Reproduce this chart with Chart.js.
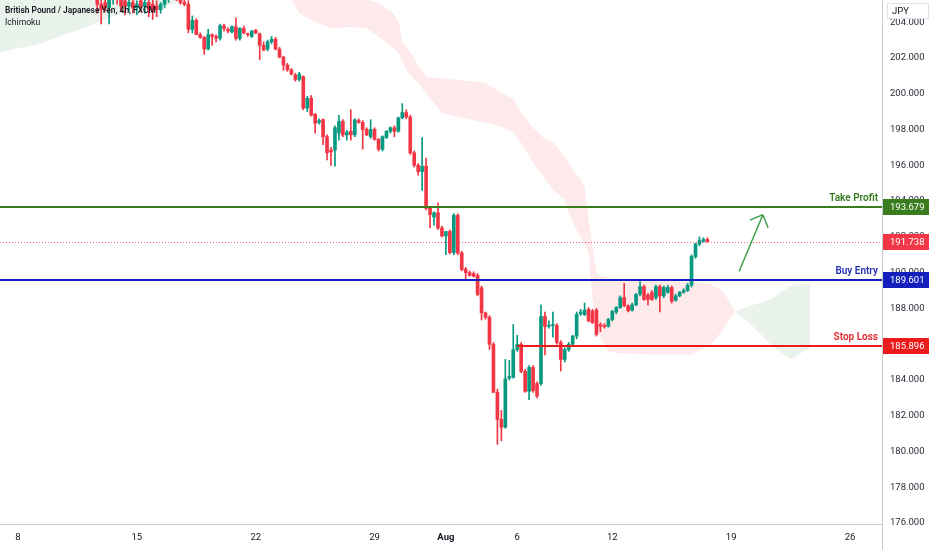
<!DOCTYPE html>
<html>
<head>
<meta charset="utf-8">
<script src="https://cdn.jsdelivr.net/npm/chart.js@4.4.1/dist/chart.umd.min.js"></script>
<style>
  html, body { margin: 0; padding: 0; background: #fff; }
  #wrap { width: 932px; height: 550px; position: relative; }
</style>
</head>
<body>
<div id="wrap"><canvas id="chart"></canvas></div>
<script>
// 4h candles, bar 0 = Mon Jul 8 00:00, one bar every 4 trading hours
const firstBar = -4;

const opens = [
  206.2, 206.4, 206.3, 206.4, 206.5, 206.6, 206.7, 206.8, 206.9, 207.0,
  206.9, 207.1, 207.3, 207.2, 207.5, 207.6, 207.5, 207.8, 207.9, 207.7,
  207.9, 207.8, 207.9, 207.7, 205.9, 205.0, 205.1, 204.8, 205.3, 205.5,
  205.3, 205.2, 204.9, 205.1, 204.8, 205.2, 204.9, 205.1, 205.0, 204.9,
  204.7, 205.0, 205.3, 205.6, 205.7, 205.4, 205.1, 205.0, 203.6, 204.1,
  203.3, 203.15, 202.5, 203.3, 203.2, 203.1, 203.8, 203.6, 203.45, 203.75,
  203.1, 203.65, 203.35, 203.2, 203.55, 203.35, 202.7, 202.5, 202.9, 203.05,
  202.5, 202.05, 201.6, 201.35, 201.05, 200.8, 200.95, 199.2, 199.75, 198.85,
  198.4, 198.55, 197.6, 196.85, 196.85, 197.8, 198.45, 197.7, 197.9, 197.7,
  198.5, 198.4, 198.0, 197.6, 198.0, 197.45, 196.9, 197.55, 197.9, 198.1,
  197.9, 198.65, 198.95, 198.7, 196.7, 196.0, 195.65, 195.95, 193.6, 193.1,
  193.35, 192.5, 192.05, 192.3, 191.12, 193.2, 191.1, 190.2, 190.0, 189.95,
  189.85, 189.15, 187.75, 187.5, 185.99, 183.31, 181.8, 181.36, 184.1, 184.15,
  185.7, 185.99, 184.48, 183.37, 184.7, 183.8, 183.8, 187.55, 187.0, 187.05,
  187.05, 186.1, 185.15, 185.7, 186.0, 186.45, 187.7, 187.65, 187.95, 187.85,
  187.9, 187.1, 187.05, 187.0, 187.38, 187.8, 188.05, 188.6, 188.15, 187.9,
  188.2, 188.8, 189.22, 188.75, 188.9, 188.6, 189.22, 188.7, 188.9, 189.17,
  188.45, 188.7, 188.9, 189.0, 189.3, 190.9, 191.6, 191.75, 191.85
];
const highs = [
  206.5, 206.6, 206.5, 206.6, 206.8, 206.9, 207.0, 207.1, 207.2, 207.2,
  207.2, 207.4, 207.5, 207.6, 207.8, 207.8, 207.9, 208.1, 208.0, 208.0,
  208.1, 208.0, 208.1, 207.8, 206.0, 205.3, 205.4, 205.4, 205.6, 205.7,
  205.5, 205.4, 205.3, 205.4, 205.2, 205.4, 205.3, 205.3, 205.3, 205.2,
  205.1, 205.5, 205.8, 205.9, 205.9, 205.6, 205.3, 205.2, 204.35, 204.2,
  203.4, 203.2, 203.6, 203.35, 203.3, 203.9, 203.9, 203.7, 203.8, 204.25,
  203.7, 203.8, 203.4, 203.55, 203.6, 203.4, 202.9, 203.0, 203.2, 203.15,
  202.6, 202.1, 201.7, 201.4, 201.15, 201.2, 201.0, 199.85, 199.9, 198.9,
  198.6, 198.6, 197.7, 197.0, 198.2, 198.8, 198.55, 197.95, 199.1, 198.6,
  198.6, 198.5, 198.1, 198.55, 198.1, 197.5, 197.65, 197.95, 198.15, 198.2,
  198.7, 199.45, 199.1, 198.8, 196.8, 196.1, 197.55, 196.4, 193.7, 193.4,
  193.9, 192.6, 192.3, 192.4, 193.3, 193.3, 191.2, 190.3, 190.1, 190.05,
  189.95, 189.25, 187.8, 187.6, 186.1, 183.5, 182.3, 185.15, 185.1, 187.1,
  186.5, 186.1, 184.6, 184.8, 184.8, 183.9, 188.2, 187.8, 187.3, 187.8,
  187.15, 186.2, 185.8, 186.1, 186.5, 187.8, 187.95, 188.3, 188.05, 187.95,
  188.0, 187.2, 187.15, 187.45, 187.9, 188.1, 188.7, 189.4, 188.2, 188.3,
  188.85, 189.5, 189.3, 188.85, 189.0, 189.3, 189.3, 189.25, 189.3, 189.25,
  188.8, 188.95, 189.1, 189.4, 191.0, 191.65, 192.0, 191.95, 191.95
];
const lows = [
  206.0, 206.2, 206.1, 206.2, 206.3, 206.4, 206.5, 206.6, 206.6, 206.8,
  206.7, 206.9, 207.0, 207.1, 207.3, 207.4, 207.4, 207.6, 207.6, 207.5,
  207.7, 207.6, 207.6, 205.6, 204.5, 203.9, 204.6, 203.9, 205.0, 205.0,
  204.6, 204.4, 204.6, 204.5, 204.4, 204.6, 204.5, 204.3, 204.15, 204.3,
  204.5, 204.8, 205.1, 205.3, 205.2, 205.0, 204.9, 203.4, 203.4, 203.3,
  203.1, 202.2, 202.45, 202.7, 202.9, 203.0, 203.5, 203.4, 203.4, 203.0,
  203.0, 203.35, 203.2, 203.15, 203.35, 201.9, 202.4, 202.4, 202.8, 202.45,
  202.0, 201.3, 201.25, 201.05, 200.7, 200.7, 199.1, 199.0, 198.75, 197.8,
  198.3, 197.15, 196.3, 196.0, 195.95, 197.4, 197.6, 197.4, 197.4, 197.6,
  198.35, 196.9, 197.65, 197.5, 197.4, 196.8, 196.8, 197.5, 197.8, 197.6,
  197.85, 198.6, 198.6, 196.6, 195.9, 195.45, 194.6, 193.5, 192.5, 192.65,
  192.4, 192.0, 191.0, 191.05, 191.0, 191.0, 190.1, 189.6, 189.8, 189.75,
  188.7, 187.35, 187.4, 185.7, 183.3, 180.4, 180.6, 181.3, 184.0, 184.1,
  185.6, 184.4, 183.3, 182.9, 183.3, 183.0, 183.7, 185.4, 186.9, 186.4,
  186.0, 184.5, 185.0, 185.6, 185.9, 186.3, 187.6, 187.6, 187.25, 187.15,
  186.45, 186.7, 186.9, 186.95, 187.3, 187.7, 188.0, 188.1, 187.8, 187.85,
  188.15, 188.7, 188.45, 188.2, 188.45, 188.5, 187.8, 188.6, 188.85, 188.3,
  188.4, 188.65, 188.85, 188.95, 189.2, 190.8, 191.5, 191.7, 191.7
];
const closes = [
  206.4, 206.3, 206.4, 206.5, 206.6, 206.7, 206.8, 206.9, 207.0, 206.9,
  207.1, 207.3, 207.2, 207.5, 207.6, 207.5, 207.8, 207.9, 207.7, 207.9,
  207.8, 207.9, 207.7, 205.9, 205.0, 204.7, 204.8, 205.3, 205.5, 205.3,
  204.9, 204.9, 205.1, 204.8, 205.0, 204.9, 205.1, 204.7, 204.6, 204.7,
  205.0, 205.3, 205.6, 205.7, 205.4, 205.1, 205.0, 203.6, 204.1, 203.3,
  203.15, 202.5, 203.3, 203.2, 203.1, 203.8, 203.65, 203.5, 203.75, 203.1,
  203.65, 203.4, 203.3, 203.5, 203.4, 202.7, 202.45, 202.9, 203.05, 202.5,
  202.05, 201.6, 201.35, 201.1, 200.8, 201.1, 199.2, 199.75, 198.8, 198.35,
  198.5, 197.6, 196.7, 196.75, 198.1, 198.45, 197.7, 197.85, 197.7, 198.55,
  198.4, 198.0, 197.7, 198.0, 197.45, 196.9, 197.6, 197.9, 198.1, 197.9,
  198.65, 198.95, 198.7, 196.7, 196.0, 195.65, 195.95, 193.6, 193.25, 193.35,
  192.5, 192.05, 192.3, 191.12, 193.2, 191.1, 190.17, 190.0, 189.85, 189.8,
  188.78, 187.75, 187.5, 185.99, 183.31, 181.8, 181.36, 184.06, 184.2, 185.7,
  185.99, 184.48, 183.37, 184.7, 183.4, 183.1, 187.55, 187.0, 187.05, 187.1,
  186.1, 185.15, 185.7, 186.0, 186.45, 187.66, 187.8, 187.9, 187.3, 187.2,
  186.55, 187.0, 186.98, 187.38, 187.83, 188.05, 188.6, 188.15, 187.87, 188.2,
  188.78, 189.22, 188.5, 188.5, 188.5, 189.22, 188.7, 189.17, 189.17, 188.4,
  188.7, 188.9, 189.0, 189.3, 190.9, 191.6, 191.8, 191.85, 191.738
];

// ichimoku cloud (leading spans, already shifted forward)
const cloudBars = [-5, 5, 15, 25, 35, 45, 55, 69, 71, 74, 79, 84, 88, 91, 94, 96, 97, 98,
  100, 101, 103, 105, 107, 112, 118, 122, 125, 127, 130, 133, 135, 138, 139, 141, 142, 143,
  144, 145, 146, 147, 149, 152, 160, 170, 175, 178, 181, 185, 190, 195, 200];
const spanA = [206.6, 206.6, 206.5, 206.4, 206.3, 206.1, 205.8, 205.3, 204.5, 204.12, 203.68,
  203.73, 203.68, 203.18, 202.7, 202.28, 201.8, 201.33, 200.8, 200.6, 200.0, 199.5, 198.93,
  198.66, 198.38, 198.15, 197.82, 197.26, 196.14, 195.2, 194.64, 194.08, 193.35, 192.4, 192.0,
  191.6, 191.12, 188.5, 187.4, 186.27, 185.6, 185.5, 185.43, 185.43, 185.99, 186.83, 187.83,
  188.16, 188.5, 189.28, 189.45];
const spanB = [202.3, 202.75, 203.55, 204.4, 204.8, 205.3, 205.6, 205.3, 205.7, 205.75, 205.8,
  205.6, 205.3, 205.05, 204.65, 204.1, 202.9, 202.6, 202.0, 201.6, 200.95, 200.9, 200.85,
  200.75, 200.6, 200.05, 199.7, 199.0, 198.1, 197.45, 197.3, 196.5, 196.1, 195.5, 195.2,
  194.8, 193.0, 191.5, 190.0, 189.8, 189.7, 189.62, 189.56, 189.5, 189.34, 188.95, 187.83,
  187.1, 185.99, 185.15, 185.82];

const dayTicks = [0, 30, 60, 90, 108, 126, 150, 180, 210];
const dayLabels = ["8", "15", "22", "29", "Aug", "6", "12", "19", "26"];

const levelNames = ["Take Profit", "Buy Entry", "Stop Loss"];
const levelValues = [193.679, 189.601, 185.896];
const levelFrom = [null, null, 126];
const lastPrice = 191.738;
const arrowFrom = [182, 190.06];
const arrowTo = [188, 193.24];

const titleText = "British Pound / Japanese Yen, 4h, FXCM";
const studyText = "Ichimoku";

const GREEN = "#089981";
const RED = "#f23645";
const levelColors = ["#3a7d1e", "#1420bd", "#ec1c1c"];
const levelTextColors = ["#3a7a22", "#2230b4", "#e0262c"];
const FONT = "Roboto";

const bars = opens.map((o, k) => firstBar + k);
const candleColors = closes.map((c, k) => (c >= opens[k] ? GREEN : RED));

const overlay = {
  id: "overlay",
  afterDatasetsDraw(chart) {
    const { ctx, chartArea: a, scales: { x, y } } = chart;
    ctx.save();
    ctx.beginPath();
    ctx.rect(a.left, a.top, a.right - a.left, a.bottom - a.top);
    ctx.clip();

    // last price dotted line
    const py = Math.round(y.getPixelForValue(lastPrice)) + 0.5;
    ctx.setLineDash([1, 2]);
    ctx.strokeStyle = "rgba(242,54,69,0.8)";
    ctx.lineWidth = 1;
    ctx.beginPath();
    ctx.moveTo(a.left, py);
    ctx.lineTo(a.right, py);
    ctx.stroke();
    ctx.setLineDash([]);

    // trade levels
    levelValues.forEach((v, k) => {
      const ly = Math.round(y.getPixelForValue(v));
      const x0 = levelFrom[k] === null ? a.left : x.getPixelForValue(levelFrom[k]);
      ctx.strokeStyle = levelColors[k];
      ctx.lineWidth = 2;
      ctx.beginPath();
      ctx.moveTo(x0, ly);
      ctx.lineTo(a.right, ly);
      ctx.stroke();
      ctx.fillStyle = levelTextColors[k];
      ctx.font = "600 10px " + FONT;
      ctx.textAlign = "right";
      ctx.textBaseline = "middle";
      ctx.fillText(levelNames[k], a.right - 4, ly - 9);
    });

    // arrow
    const ax0 = x.getPixelForValue(arrowFrom[0]), ay0 = y.getPixelForValue(arrowFrom[1]);
    const ax1 = x.getPixelForValue(arrowTo[0]), ay1 = y.getPixelForValue(arrowTo[1]);
    const ang = Math.atan2(ay0 - ay1, ax0 - ax1);
    ctx.strokeStyle = "#3f9f4a";
    ctx.lineWidth = 1.5;
    ctx.beginPath();
    ctx.moveTo(ax0, ay0);
    ctx.lineTo(ax1, ay1);
    [-0.78, 0.78].forEach((d) => {
      ctx.moveTo(ax1, ay1);
      ctx.lineTo(ax1 + 14 * Math.cos(ang + d), ay1 + 14 * Math.sin(ang + d));
    });
    ctx.stroke();
    ctx.restore();
  },
  afterDraw(chart) {
    const { ctx, chartArea: a, scales: { y } } = chart;
    const W = chart.width, H = chart.height;
    ctx.save();
    // hide the part of the lowest price label under the time axis
    ctx.fillStyle = "#fff";
    ctx.fillRect(a.right + 1, a.bottom + 1, W - a.right, H - a.bottom);
    ctx.strokeStyle = "#c9cbd1";
    ctx.lineWidth = 1;
    ctx.beginPath();
    ctx.moveTo(a.right + 0.5, a.bottom);
    ctx.lineTo(a.right + 0.5, H);
    ctx.stroke();

    // price tags on the axis
    const tags = [
      [levelValues[0], levelColors[0]],
      [lastPrice, RED],
      [levelValues[1], levelColors[1]],
      [levelValues[2], levelColors[2]]
    ];
    ctx.font = "9.5px " + FONT;
    ctx.textAlign = "left";
    ctx.textBaseline = "middle";
    tags.forEach(([v, c]) => {
      const ty = Math.round(y.getPixelForValue(v));
      ctx.fillStyle = c;
      ctx.fillRect(a.right + 1, ty - 8, 46, 16);
      ctx.fillStyle = "#fff";
      ctx.fillText(v.toFixed(3), a.right + 8, ty + 0.5);
    });

    // currency box
    ctx.fillStyle = "#fff";
    ctx.fillRect(a.right + 5, 3, 42, 16);
    ctx.strokeStyle = "#e0e3eb";
    ctx.strokeRect(a.right + 5.5, 3.5, 41, 15);
    ctx.fillStyle = "#131722";
    ctx.fillText("JPY", a.right + 10, 11.5);

    // title
    ctx.fillStyle = "#131722";
    ctx.font = "600 8.4px " + FONT;
    ctx.fillText(titleText, 5, 11);
    ctx.font = "8.6px " + FONT;
    ctx.fillText(studyText, 5, 23);
    ctx.restore();
  }
};

new Chart(document.getElementById("chart"), {
  type: "bar",
  data: {
    datasets: [
      {
        type: "line",
        label: "Span B",
        data: cloudBars.map((b, k) => ({ x: b, y: spanB[k] })),
        borderWidth: 0,
        pointRadius: 0,
        fill: false,
        order: 5
      },
      {
        type: "line",
        label: "Span A",
        data: cloudBars.map((b, k) => ({ x: b, y: spanA[k] })),
        borderWidth: 0,
        pointRadius: 0,
        fill: { target: 0, above: "rgba(76,160,90,0.12)", below: "rgba(242,54,69,0.11)" },
        order: 4
      },
      {
        label: "Wicks",
        data: bars.map((b, k) => ({ x: b, y: [lows[k], highs[k]] })),
        backgroundColor: candleColors,
        barThickness: 1,
        grouped: false,
        order: 2
      },
      {
        label: "Bodies",
        data: bars.map((b, k) => ({
          x: b,
          y: [Math.min(opens[k], closes[k]), Math.max(opens[k], closes[k])]
        })),
        backgroundColor: candleColors,
        barThickness: 3,
        minBarLength: 1,
        grouped: false,
        order: 1
      }
    ]
  },
  options: {
    responsive: true,
    maintainAspectRatio: false,
    animation: false,
    devicePixelRatio: 1,
    layout: { padding: 0 },
    plugins: { legend: { display: false }, tooltip: { enabled: false } },
    scales: {
      x: {
        type: "linear",
        offset: false,
        min: -4.543,
        max: 218.07,
        grid: { display: false },
        border: { display: true, color: "#c9cbd1" },
        afterBuildTicks: (s) => { s.ticks = dayTicks.map((v) => ({ value: v })); },
        afterFit: (s) => { s.height = 26; s.paddingLeft = 0; s.paddingRight = 0; },
        ticks: {
          autoSkip: false,
          maxRotation: 0,
          padding: 0,
          color: "#131722",
          font: (c) => ({ family: FONT, size: 9.5, weight: c.tick && c.tick.value === 108 ? "bold" : "normal" }),
          callback: (v) => dayLabels[dayTicks.indexOf(v)]
        }
      },
      y: {
        position: "right",
        min: 175.95,
        max: 205.24,
        grid: { display: false },
        border: { display: true, color: "#c9cbd1" },
        afterFit: (s) => { s.width = 50; s.paddingTop = 0; s.paddingBottom = 0; },
        ticks: {
          stepSize: 2,
          includeBounds: false,
          padding: 0,
          color: "#2a2e39",
          font: { family: FONT, size: 9.5 },
          callback: (v) => v.toFixed(3)
        }
      }
    }
  },
  plugins: [overlay]
});
</script>
</body>
</html>
